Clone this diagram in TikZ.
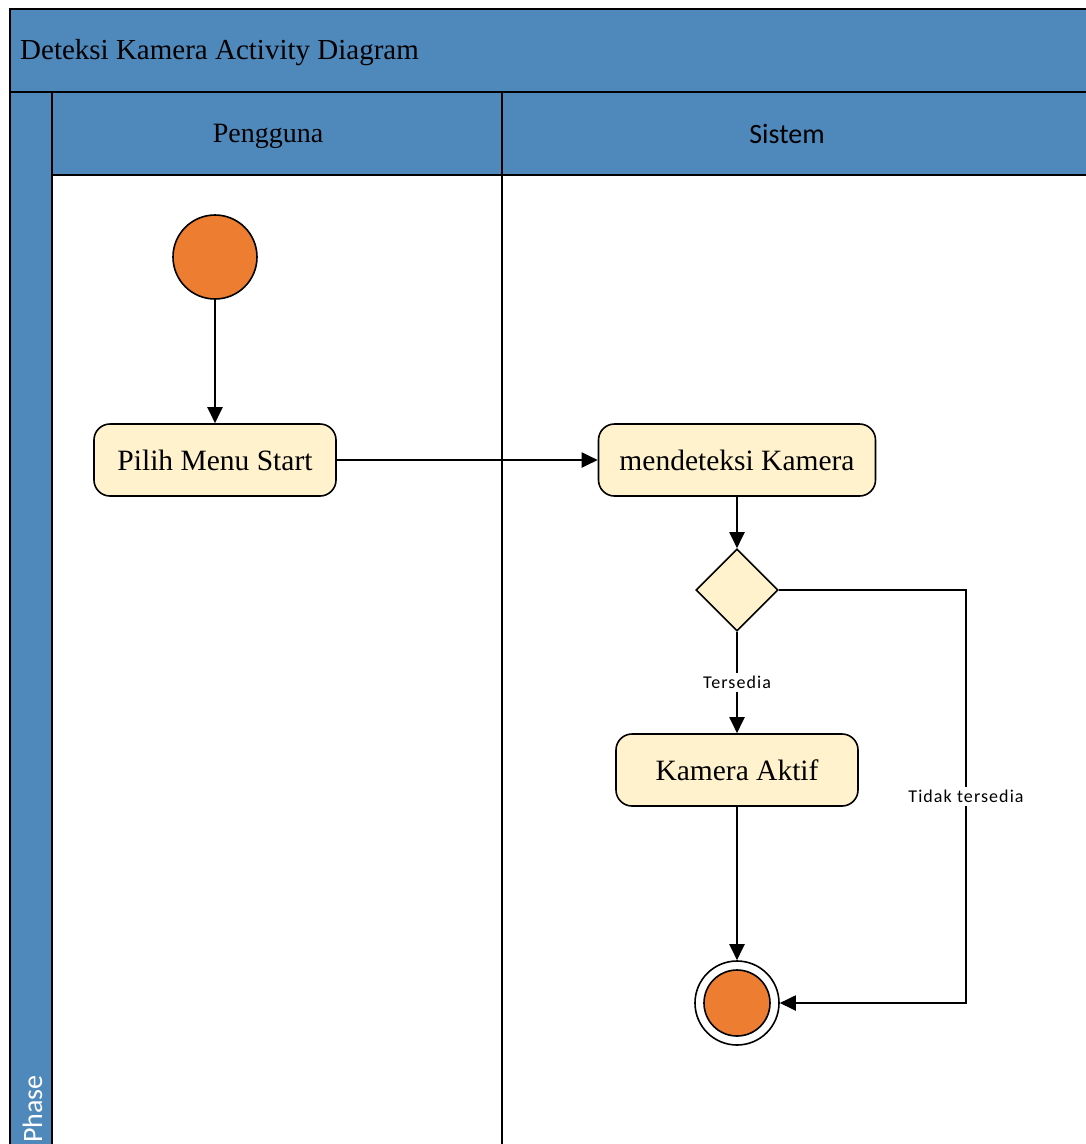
\documentclass[tikz,border=0pt]{standalone}
\usepackage{fontspec}
\setmainfont{Liberation Serif}
\newfontfamily\carl{Carlito}
\usetikzlibrary{arrows.meta,shapes.geometric}
\definecolor{laneblue}{RGB}{79,136,187}
\definecolor{actfill}{RGB}{255,242,204}
\definecolor{dotorange}{RGB}{237,125,49}
\tikzset{
  frame/.style={draw=black,line width=2pt},
  hdrfill/.style={fill=laneblue,draw=black,line width=2pt},
  activity/.style={draw=black,fill=actfill,line width=1.6pt,rounded corners=16pt,
    minimum width=242pt,minimum height=72pt,inner sep=0pt,font=\fontsize{29.5}{33}\selectfont},
  decision/.style={diamond,draw=black,fill=actfill,line width=1.6pt,minimum width=82pt,
    minimum height=82pt,inner sep=0pt,aspect=1},
  startdot/.style={circle,draw=black,fill=dotorange,line width=1.6pt,minimum size=84pt,inner sep=0pt},
  endring/.style={circle,draw=black,fill=white,line width=1.6pt,minimum size=84pt,inner sep=0pt},
  enddot/.style={circle,draw=black,fill=dotorange,line width=1.6pt,minimum size=66pt,inner sep=0pt},
  flow/.style={draw=black,line width=2pt,-{Triangle[length=16pt,width=15pt]}},
  guard/.style={fill=white,inner sep=3pt,font=\carl\fontsize{18}{21}\selectfont\addfontfeature{LetterSpace=6}},
}
\begin{document}
\begin{tikzpicture}[x=1pt,y=-1pt]
\useasboundingbox (0,0) rectangle (1086,1144);
\clip (0,0) rectangle (1086,1144);
\fill[white] (0,0) rectangle (1086,1144);
% swimlane frame
\filldraw[frame,fill=white] (10,9) rectangle (1110,1170);
\filldraw[hdrfill] (10,9) rectangle (1110,92);
\filldraw[hdrfill] (10,92) rectangle (52,1170);
\filldraw[hdrfill] (52,92) rectangle (502,175);
\filldraw[hdrfill] (502,92) rectangle (1110,175);
\draw[frame] (502,175) -- (502,1170);
% header texts
\node[anchor=base west,inner sep=0pt,font=\fontsize{29}{32}\selectfont] (title) at (20,59) {Deteksi Kamera Activity Diagram};
\node[anchor=base,inner sep=0pt,font=\fontsize{28}{32}\selectfont] (hdrA) at (268,142) {Pengguna};
\node[anchor=base,inner sep=0pt,font=\carl\fontsize{28}{32}\selectfont] (hdrB) at (787,143) {Sistem};
\node[rotate=90,anchor=base west,inner sep=0pt,text=white,font=\carl\fontsize{28}{32}\selectfont] (phase) at (42,1143) {Phase};
% nodes
\node[startdot] (start) at (215,257) {};
\node[activity] (pilih) at (215,460) {Pilih Menu Start};
\node[activity,minimum width=277pt] (deteksi) at (737,460) {mendeteksi Kamera};
\node[decision] (dec) at (737,590) {};
\node[activity] (aktif) at (737,770) {Kamera Aktif};
\node[endring] (endo) at (737,1003) {};
\node[enddot] (endi) at (737,1003) {};
\coordinate (bendA) at (966,590);
\coordinate (bendB) at (966,1003);
% connectors
\draw[flow] (start) -- (pilih);
\draw[flow] (pilih) -- (deteksi);
\draw[flow] (deteksi) -- (dec);
\draw[flow] (dec) -- node[guard] (lblA) {Tersedia} (aktif);
\draw[flow] (aktif) -- (endo);
\draw[flow] (dec.east) -- (bendA) -- node[guard,pos=0.5] (lblB) {Tidak tersedia} (bendB) -- (endo);
\end{tikzpicture}
\end{document}
